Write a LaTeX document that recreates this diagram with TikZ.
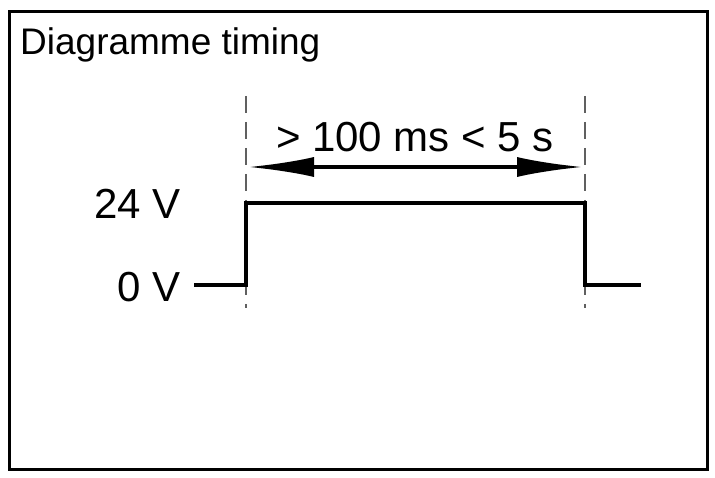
\documentclass[tikz,border=0pt]{standalone}
\usepackage{fontspec}
\setmainfont{Liberation Sans}
\usetikzlibrary{arrows.meta}
\begin{document}
\begin{tikzpicture}[x=1pt,y=-1pt,
  sig/.style={line width=3.6pt},
  guide/.style={gray!75!black,line width=2.6pt,dash pattern=on 17pt off 9pt},
  lbl/.style={font=\fontsize{42}{42}\selectfont,inner sep=0pt}]
\useasboundingbox (0,0) rectangle (715,478);
\draw[line width=3pt] (9,12) rectangle (707,469);
\node[lbl,anchor=west,font=\fontsize{37}{37}\selectfont] (title) at (20,45) {Diagramme timing};
\coordinate (gl1) at (246,96); \coordinate (gl2) at (246,308);
\coordinate (gr1) at (585,96); \coordinate (gr2) at (585,308);
\draw[guide] (gl1) -- (gl2);
\draw[guide] (gr1) -- (gr2);
\coordinate (al) at (248,167); \coordinate (ar) at (583,167);
\draw[line width=3.6pt,{Latex[length=66pt,width=20pt]}-{Latex[length=66pt,width=20pt]}] (al) -- (ar);
\node[lbl] (dur) at (415,137) {> 100 ms < 5 s};
\node[lbl,anchor=east] (v24) at (181,204) {24 V};
\node[lbl,anchor=east] (v0) at (181,287) {0 V};
\coordinate (s0) at (194,285); \coordinate (s1) at (246,285); \coordinate (s2) at (246,203);
\coordinate (s3) at (585,203); \coordinate (s4) at (585,285); \coordinate (s5) at (641,285);
\draw[sig] (s0) -- (s1) -- (s2) -- (s3) -- (s4) -- (s5);
\end{tikzpicture}
\end{document}
